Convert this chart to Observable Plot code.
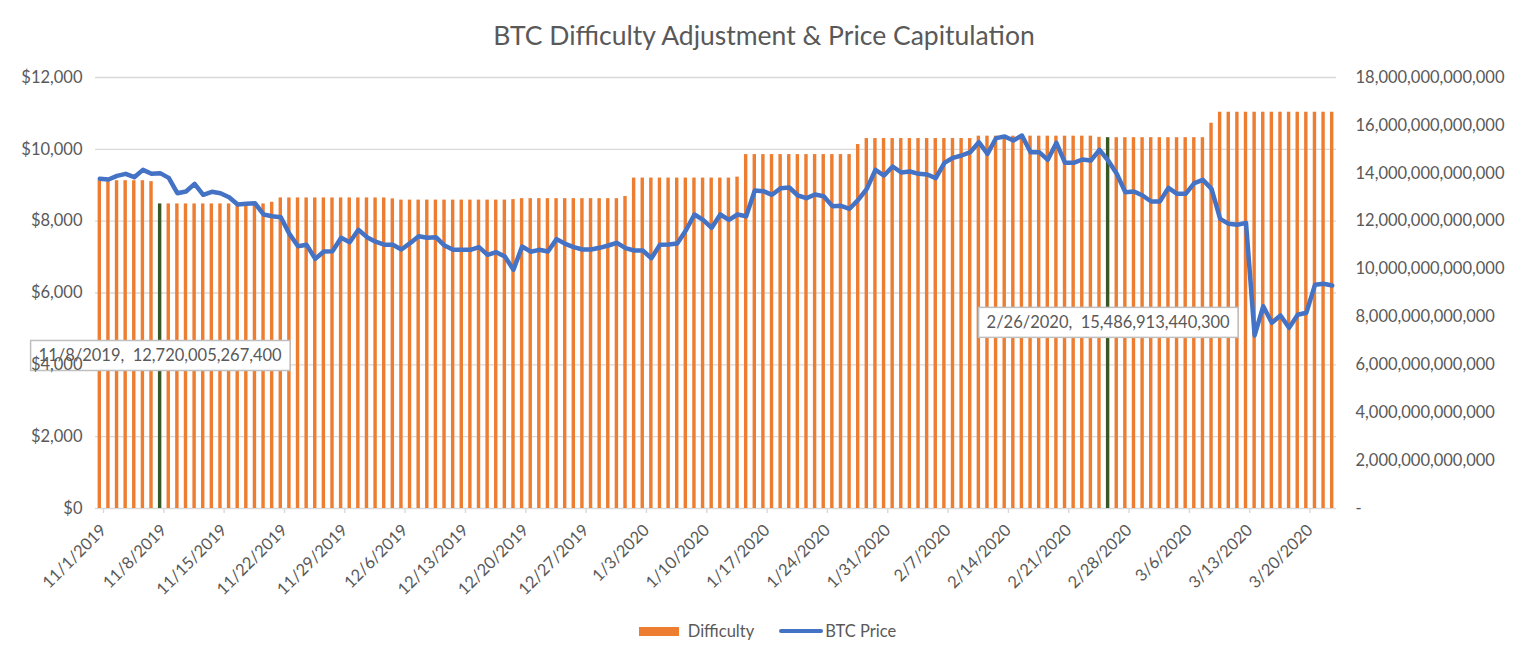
<!DOCTYPE html>
<html>
<head>
<meta charset="utf-8">
<script src="https://cdn.jsdelivr.net/npm/d3@7"></script>
<script src="https://cdn.jsdelivr.net/npm/@observablehq/plot@0.6"></script>
<style>
  html, body { margin: 0; padding: 0; background: #ffffff; }
  body { width: 1528px; height: 661px; overflow: hidden; font-family: Lato, "Open Sans", sans-serif; color: #595959; }
  #title { height: 50px; padding-top: 10px; line-height: 50px; text-align: center; font-size: 26.5px; color: #595959; }
  #chart svg { display: block; }
  #legend { margin-top: 16px; height: 20px; display: flex; justify-content: center; align-items: center; font-size: 16.5px; line-height: 20px; padding-left: 7px; }
  .sw-bar { display: inline-block; width: 40px; height: 9px; background: #ed7d31; margin-right: 9px; }
  .sw-line { display: inline-block; width: 44px; height: 4.5px; border-radius: 3px; background: #4472c4; margin-left: 25px; margin-right: 2px; }
</style>
</head>
<body>
<div id="title">BTC Difficulty Adjustment &amp; Price Capitulation</div>
<div id="chart"></div>
<div id="legend"><span class="sw-bar"></span><span>Difficulty</span><span class="sw-line"></span><span>BTC Price</span></div>
<script>
// ---- Data (one entry per day, 11/1/2019 .. 3/23/2020) ----
const firstDay = "2019-11-01";
const lastDayExclusive = "2020-03-24";

// Network difficulty, in trillions
const difficultyT = [
  13.69, 13.69, 13.69, 13.69, 13.69, 13.69, 13.65,
  12.7200052674, 12.7200052674, 12.7200052674, 12.7200052674, 12.7200052674, 12.7200052674, 12.7200052674,
  12.7200052674, 12.7200052674, 12.7200052674, 12.7200052674, 12.7200052674, 12.7200052674,
  12.79,
  12.97, 12.97, 12.97, 12.97, 12.97, 12.97, 12.97, 12.97, 12.97, 12.97, 12.97, 12.97, 12.97,
  12.93,
  12.88, 12.88, 12.88, 12.88, 12.88, 12.88, 12.88, 12.88, 12.88, 12.88, 12.88, 12.88, 12.88,
  12.90,
  12.94, 12.94, 12.94, 12.94, 12.94, 12.94, 12.94, 12.94, 12.94, 12.94, 12.94, 12.94,
  13.03,
  13.80, 13.80, 13.80, 13.80, 13.80, 13.80, 13.80, 13.80, 13.80, 13.80, 13.80, 13.80,
  13.84,
  14.78, 14.78, 14.78, 14.78, 14.78, 14.78, 14.78, 14.78, 14.78, 14.78, 14.78, 14.78, 14.78,
  15.20,
  15.45, 15.45, 15.45, 15.45, 15.45, 15.45, 15.45, 15.45, 15.45, 15.45, 15.45, 15.45, 15.45,
  15.55, 15.55, 15.55, 15.55, 15.55, 15.55, 15.55, 15.55, 15.55, 15.55, 15.55, 15.55, 15.55, 15.55,
  15.50,
  15.4869134403, 15.4869134403, 15.4869134403, 15.4869134403, 15.4869134403, 15.4869134403,
  15.4869134403, 15.4869134403, 15.4869134403, 15.4869134403, 15.4869134403, 15.4869134403,
  16.09,
  16.55, 16.55, 16.55, 16.55, 16.55, 16.55, 16.55, 16.55, 16.55, 16.55, 16.55, 16.55, 16.55, 16.55
];

// BTC price, USD
const btcPrice = [
  9180, 9160, 9262, 9318, 9225, 9429, 9318, 9337, 9206, 8779,
  8826, 9039, 8733, 8817, 8779, 8668, 8464, 8483, 8501, 8186,
  8139, 8111, 7647, 7304, 7341, 6951, 7155, 7165, 7536, 7415,
  7759, 7555, 7430, 7345, 7341, 7211, 7387, 7582, 7536, 7555,
  7320, 7202, 7202, 7202, 7276, 7063, 7137, 7016, 6646, 7295,
  7150, 7202, 7155, 7500, 7369, 7276, 7211, 7211, 7258, 7322,
  7397, 7248, 7183, 7183, 6969, 7341, 7350, 7378, 7740, 8186,
  8037, 7815, 8186, 8037, 8186, 8139, 8854, 8835, 8733, 8919,
  8937, 8715, 8640, 8742, 8696, 8418, 8427, 8344, 8594, 8900,
  9429, 9271, 9522, 9355, 9383, 9318, 9299, 9197, 9624, 9764,
  9828, 9921, 10199, 9875, 10311, 10357, 10246, 10385, 9921, 9921,
  9708, 10181, 9624, 9624, 9717, 9689, 9986, 9689, 9318, 8807,
  8826, 8715, 8547, 8547, 8928, 8761, 8761, 9057, 9151, 8900,
  8065, 7926, 7899, 7954, 4817, 5633, 5170, 5374, 5031, 5393,
  5449, 6228, 6256, 6209
];

const highlightDates = ["2019-11-08", "2020-02-26"];

const priceTicks = [0, 2000, 4000, 6000, 8000, 10000, 12000];
const difficultyTicksT = [0, 2, 4, 6, 8, 10, 12, 14, 16, 18];

// ---- Build table ----
const parse = d3.utcParse("%Y-%m-%d");
const days = d3.utcDay.range(parse(firstDay), parse(lastDayExclusive));
const rows = days.map((date, i) => ({
  date,
  difficulty: difficultyT[i] * 1e12,
  price: btcPrice[i],
  highlight: highlightDates.includes(d3.utcFormat("%Y-%m-%d")(date))
}));

const priceMax = priceTicks[priceTicks.length - 1];
const diffMax = difficultyTicksT[difficultyTicksT.length - 1] * 1e12;
const k = priceMax / diffMax; // difficulty -> price-axis units

const fmtDate = d3.utcFormat("%-m/%-d/%Y");
const fmtNum = d3.format(",.0f");
const xTicks = d3.utcDay.range(parse(firstDay), parse(lastDayExclusive), 7);

const orange = "#ed7d31", green = "#385723", blue = "#4472c4", grid = "#d9d9d9", textCol = "#595959";

const chart = Plot.plot({
  width: 1528,
  height: 545,
  marginLeft: 95,
  marginRight: 192,
  marginTop: 17,
  marginBottom: 97,
  style: { fontFamily: "Lato, 'Open Sans', sans-serif", fontSize: "16.5px", color: textCol, background: "#ffffff", overflow: "visible" },
  x: { type: "utc", domain: [parse(firstDay), parse(lastDayExclusive)] },
  y: { domain: [0, priceMax] },
  marks: [
    Plot.gridY(priceTicks, { stroke: grid, strokeOpacity: 1, strokeWidth: 1.4 }),
    Plot.rectY(rows.filter(d => !d.highlight), {
      x: "date", interval: d3.utcDay, y: d => d.difficulty * k,
      fill: orange, insetLeft: 2.6, insetRight: 2.6
    }),
    Plot.rectY(rows.filter(d => d.highlight), {
      x: "date", interval: d3.utcDay, y: d => d.difficulty * k,
      fill: green, insetLeft: 2.6, insetRight: 2.6
    }),
    Plot.line(rows, {
      x: d => d3.utcHour.offset(d.date, 12), y: "price",
      stroke: blue, strokeWidth: 4.5, strokeLinejoin: "round", strokeLinecap: "round"
    }),
    Plot.text(rows.filter(d => d.highlight), {
      x: d => d3.utcHour.offset(d.date, 12),
      y: d => d.difficulty * k / 2,
      text: d => `${fmtDate(d.date)},\u00a0 ${fmtNum(d.difficulty)}`,
      fill: textCol, fontSize: 16.5
    }),
    Plot.axisY(priceTicks, {
      anchor: "left", tickSize: 0, tickPadding: 13, label: null,
      tickFormat: d => "$" + fmtNum(d), fill: textCol
    }),
    Plot.axisY(difficultyTicksT.map(t => t * 1e12 * k), {
      anchor: "right", tickSize: 0, tickPadding: 19, label: null, textAnchor: "start",
      tickFormat: v => { const d = Math.round(v / k / 1e12) * 1e12; return d === 0 ? "-" : fmtNum(d); },
      fill: textCol
    }),
    Plot.axisX(xTicks, {
      tickFormat: fmtDate, tickRotate: -45, tickSize: 5, tickPadding: 14, dx: 8,
      stroke: grid, strokeWidth: 1.4, fill: textCol, label: null
    })
  ]
});

document.getElementById("chart").append(chart);

// boxes behind the data labels
const svgNS = "http://www.w3.org/2000/svg";
Array.from(chart.querySelectorAll("text"))
  .filter(t => t.textContent.includes("\u00a0"))
  .forEach(t => {
    const b = t.getBBox();
    const r = document.createElementNS(svgNS, "rect");
    r.setAttribute("x", b.x - 8);
    r.setAttribute("y", b.y - 5);
    r.setAttribute("width", b.width + 16);
    r.setAttribute("height", b.height + 10);
    r.setAttribute("fill", "#ffffff");
    r.setAttribute("stroke", "#bfbfbf");
    r.setAttribute("stroke-width", 1.5);
    const tr = t.getAttribute("transform");
    if (tr) r.setAttribute("transform", tr);
    t.parentNode.insertBefore(r, t);
  });
</script>
</body>
</html>
